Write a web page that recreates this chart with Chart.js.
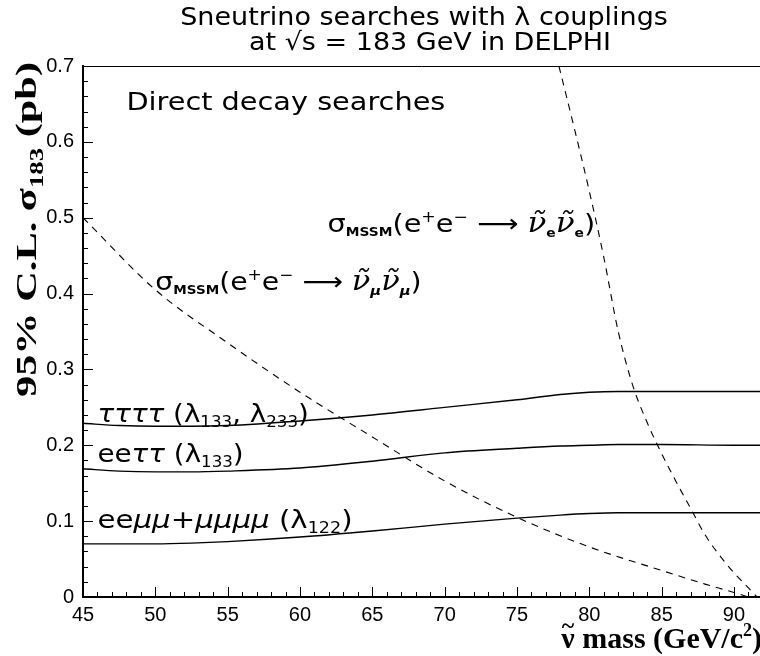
<!DOCTYPE html>
<html>
<head>
<meta charset="utf-8">
<script src="https://cdn.jsdelivr.net/npm/chart.js@4.4.1/dist/chart.umd.min.js"></script>
<style>
  html, body { margin: 0; padding: 0; background: #fff; }
  #wrap { width: 760px; height: 656px; }
</style>
</head>
<body>
<div id="wrap"><canvas id="chart" width="760" height="656"></canvas></div>
<script>
// limits (pb), shared mass grid for the three solid curves
const massGrid = [45, 47.5, 50, 52.5, 55, 60, 65, 70, 75, 78, 80, 82, 85, 90, 91.8];
const limTTTT = [0.229, 0.226, 0.225, 0.225, 0.226, 0.232, 0.240, 0.250, 0.260, 0.267, 0.270, 0.271, 0.271, 0.271, 0.271];
const limEETT = [0.169, 0.166, 0.165, 0.165, 0.166, 0.170, 0.179, 0.190, 0.196, 0.199, 0.200, 0.201, 0.201, 0.200, 0.200];
const limEEMM = [0.070, 0.070, 0.070, 0.071, 0.073, 0.079, 0.087, 0.096, 0.104, 0.108, 0.110, 0.111, 0.111, 0.111, 0.111];

// MSSM cross sections (dashed)
const massMu = [45, 50, 55, 60, 65, 70, 75, 80, 85, 88, 90, 91];
const xsecMu = [0.50, 0.405, 0.335, 0.270, 0.211, 0.153, 0.105, 0.066, 0.035, 0.017, 0.006, 0];
const massE = [77.9, 79, 80, 81, 82, 83, 84, 85, 86, 87, 88, 89, 90, 91, 91.6];
const xsecE = [0.70, 0.615, 0.535, 0.448, 0.350, 0.279, 0.230, 0.189, 0.152, 0.117, 0.082, 0.055, 0.032, 0.012, 0];

// axes
const xTickValues = [45, 50, 55, 60, 65, 70, 75, 80, 85, 90];
const yTickValues = [0, 0.1, 0.2, 0.3, 0.4, 0.5, 0.6, 0.7];
const yTickLabels = ['0', '0.1', '0.2', '0.3', '0.4', '0.5', '0.6', '0.7'];

const pts = (xs, ys) => xs.map((x, i) => ({ x, y: ys[i] }));

const SANS = '"DejaVu Sans"';
const SERIF = '"Liberation Serif", "Times New Roman", serif';
const main = `25px ${SANS}`;
const ital = `italic 25px ${SANS}`;
const sub = `15px ${SANS}`;
const tiny = `bold 12px ${SANS}`;
const nuF = `italic 27px "DejaVu Serif"`;

// draws a run of text pieces; a piece with `over` is centred on the previous one
function drawRich(ctx, x, y, parts, sx) {
  ctx.save();
  ctx.translate(x, y);
  ctx.scale(sx, 1);
  let cx = 0, prevW = 0;
  parts.forEach(p => {
    ctx.font = p.f;
    const w = ctx.measureText(p.t).width;
    if (p.over) {
      ctx.fillText(p.t, cx - prevW / 2 - w / 2 + (p.dx || 0), p.dy || 0);
      return;
    }
    ctx.fillText(p.t, cx, p.dy || 0);
    cx += w;
    prevW = w;
  });
  ctx.restore();
  return cx * sx;
}

function richWidth(ctx, parts) {
  let w = 0;
  parts.forEach(p => { ctx.font = p.f; if (!p.over) w += ctx.measureText(p.t).width; });
  return w;
}

const sigmaLabel = flav => {
  const fl = flav === 'e' ? tiny : `bold italic 13px ${SANS}`;
  return [
    { t: 'σ', f: main },
    { t: 'MSSM', f: tiny, dy: 4 },
    { t: '(e', f: main },
    { t: '+', f: sub, dy: -10 },
    { t: 'e', f: main },
    { t: '−', f: sub, dy: -10 },
    { t: ' ⟶ ', f: main },
    { t: 'ν\u0303', f: nuF },
    { t: flav, f: fl, dy: 5 },
    { t: 'ν\u0303', f: nuF },
    { t: flav, f: fl, dy: 5 },
    { t: ')', f: main }
  ];
};

const decorations = {
  id: 'decorations',
  afterDraw(chart) {
    const ctx = chart.ctx;
    const a = chart.chartArea;
    const xs = chart.scales.x, ys = chart.scales.y;
    ctx.save();
    ctx.fillStyle = '#000';
    ctx.strokeStyle = '#000';
    ctx.textBaseline = 'alphabetic';
    ctx.textAlign = 'left';

    // top frame line
    ctx.lineWidth = 1;
    ctx.beginPath();
    ctx.moveTo(a.left, a.top + 0.5);
    ctx.lineTo(a.right, a.top + 0.5);
    ctx.stroke();

    // inward ticks
    ctx.beginPath();
    for (let v = 45; v <= 91; v++) {
      const px = Math.round(xs.getPixelForValue(v)) + 0.5;
      const len = v % 5 === 0 ? 10 : 5;
      ctx.moveTo(px, a.bottom);
      ctx.lineTo(px, a.bottom - len);
    }
    for (let k = 0; k <= 35; k++) {
      const py = Math.round(ys.getPixelForValue(k * 0.02)) + 0.5;
      const len = k % 5 === 0 ? 10 : 5;
      ctx.moveTo(a.left, py);
      ctx.lineTo(a.left + len, py);
    }
    ctx.stroke();

    // title
    const t1 = [{ t: 'Sneutrino searches with λ couplings', f: main }];
    const t2 = [{ t: 'at √s = 183 GeV in DELPHI', f: main }];
    const hs = 1.08;
    drawRich(ctx, 424 - richWidth(ctx, t1) * hs / 2, 25, t1, hs);
    drawRich(ctx, 430 - richWidth(ctx, t2) * hs / 2, 50, t2, hs);

    // text inside the frame
    const at = (x, y) => [xs.getPixelForValue(x), ys.getPixelForValue(y)];
    let p = at(48.0, 0.642);
    drawRich(ctx, p[0], p[1], [{ t: 'Direct decay searches', f: main }], 1.15);

    p = at(61.9, 0.481);
    drawRich(ctx, p[0], p[1], sigmaLabel('e'), 1.15);
    p = at(50.0, 0.405);
    drawRich(ctx, p[0], p[1], sigmaLabel('μ'), 1.13);

    p = at(46.0, 0.231);
    drawRich(ctx, p[0], p[1], [
      { t: 'ττττ', f: ital }, { t: ' (λ', f: main }, { t: '133', f: sub, dy: 5 },
      { t: ', λ', f: main }, { t: '233', f: sub, dy: 5 }, { t: ')', f: main }
    ], 1.11);
    p = at(46.0, 0.178);
    drawRich(ctx, p[0], p[1], [
      { t: 'ee', f: main }, { t: 'ττ', f: ital }, { t: ' (λ', f: main },
      { t: '133', f: sub, dy: 5 }, { t: ')', f: main }
    ], 1.11);
    p = at(46.0, 0.091);
    drawRich(ctx, p[0], p[1], [
      { t: 'ee', f: main }, { t: 'μμ', f: ital }, { t: '+', f: main }, { t: 'μμμμ', f: ital },
      { t: ' (λ', f: main }, { t: '122', f: sub, dy: 5 }, { t: ')', f: main }
    ], 1.17);

    // x axis title, right aligned
    const xt = [
      { t: 'ν', f: `bold 30px ${SERIF}` },
      { t: '~', f: `bold 24px ${SERIF}`, over: true, dy: -15 },
      { t: ' mass (GeV/c', f: `bold 30px ${SERIF}` },
      { t: '2', f: `bold 18px ${SERIF}`, dy: -12 },
      { t: ')', f: `bold 30px ${SERIF}` }
    ];
    drawRich(ctx, 762 - richWidth(ctx, xt), 648, xt, 1);

    // y axis title, rotated
    const yt = [
      { t: '95% C.L. σ', f: `bold 30px ${SERIF}` },
      { t: '183', f: `bold 19px ${SERIF}`, dy: 7 },
      { t: ' (pb)', f: `bold 30px ${SERIF}` }
    ];
    ctx.save();
    ctx.translate(36, 397);
    ctx.rotate(-Math.PI / 2);
    drawRich(ctx, 0, 0, yt, 335 / richWidth(ctx, yt));
    ctx.restore();

    ctx.restore();
  }
};

const solid = (data) => ({
  data, borderColor: '#000', borderWidth: 1.4, pointRadius: 0,
  cubicInterpolationMode: 'monotone', fill: false
});
const dashed = (data) => ({
  data, borderColor: '#000', borderWidth: 1.1, pointRadius: 0, borderDash: [7, 6],
  cubicInterpolationMode: 'monotone', fill: false
});

new Chart(document.getElementById('chart'), {
  type: 'line',
  data: {
    datasets: [
      solid(pts(massGrid, limTTTT)),
      solid(pts(massGrid, limEETT)),
      solid(pts(massGrid, limEEMM)),
      dashed(pts(massMu, xsecMu)),
      dashed(pts(massE, xsecE))
    ]
  },
  options: {
    responsive: false,
    animation: false,
    devicePixelRatio: 1,
    layout: { padding: { top: 66, left: 0, right: 0, bottom: 0 } },
    plugins: { legend: { display: false }, tooltip: { enabled: false } },
    scales: {
      x: {
        type: 'linear', min: 45, max: 91.8,
        afterBuildTicks: s => { s.ticks = xTickValues.map(v => ({ value: v })); },
        afterFit: s => { s.height = 59; },
        ticks: {
          color: '#000', padding: 6, maxRotation: 0, autoSkip: false,
          font: { family: '"Liberation Sans", Arial', size: 20 }
        },
        grid: { display: false, drawTicks: false },
        border: { display: true, color: '#000', width: 2 }
      },
      y: {
        type: 'linear', min: 0, max: 0.7,
        afterBuildTicks: s => { s.ticks = yTickValues.map(v => ({ value: v })); },
        afterFit: s => { s.width = 83; },
        ticks: {
          color: '#000', padding: 9, autoSkip: false,
          font: { family: '"Liberation Sans", Arial', size: 20 },
          callback: (v, i) => yTickLabels[i]
        },
        grid: { display: false, drawTicks: false },
        border: { display: true, color: '#000', width: 2 }
      }
    }
  },
  plugins: [decorations]
});
</script>
</body>
</html>
